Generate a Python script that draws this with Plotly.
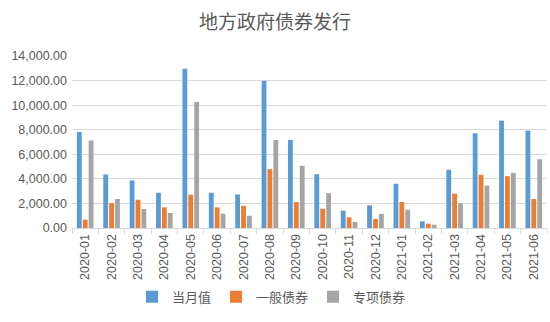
import plotly.graph_objects as go

months = ["2020-01","2020-02","2020-03","2020-04","2020-05","2020-06","2020-07","2020-08","2020-09",
          "2020-10","2020-11","2020-12","2021-01","2021-02","2021-03","2021-04","2021-05","2021-06"]
monthly = [7820, 4360, 3870, 2870, 12960, 2870, 2730, 11990, 7170, 4380, 1410, 1840, 3600, 540, 4740, 7710, 8740, 7930]
general = [680, 2030, 2300, 1680, 2710, 1680, 1810, 4790, 2110, 1570, 870, 730, 2110, 350, 2790, 4330, 4220, 2360]
special = [7120, 2360, 1540, 1220, 10260, 1160, 1000, 7170, 5060, 2840, 490, 1140, 1490, 270, 2000, 3460, 4490, 5600]

names = ["当月值", "一般债券", "专项债券"]
colors = ["#5B9BD5", "#ED7D31", "#A5A5A5"]

fig = go.Figure()
for n, vals, c in zip(names, [monthly, general, special], colors):
    fig.add_trace(go.Bar(x=months, y=vals, name=n, marker_color=c, marker_line_width=0))

cjk = "Noto Sans CJK SC"
fig.update_layout(
    width=550, height=322,
    margin=dict(l=72, r=3, t=56, b=94, autoexpand=False),
    paper_bgcolor="white", plot_bgcolor="white",
    title=dict(text="地方政府债券发行", x=0.5, xanchor="center", y=0.93, yanchor="middle",
               font=dict(family=cjk, size=19, color="#595959")),
    barmode="group", bargap=0.33, bargroupgap=0.18,
    legend=dict(orientation="h", x=0.42, xanchor="center", y=-0.4, yanchor="middle",
                font=dict(family=cjk, size=13, color="#595959"), itemwidth=30,
                tracegroupgap=0, traceorder="normal"),
    font=dict(family="Liberation Sans", color="#595959"),
)
fig.update_yaxes(range=[0, 14000], dtick=2000, tickformat=",.2f", automargin=False,
                 showgrid=True, gridcolor="#D9D9D9", gridwidth=1, zeroline=False,
                 tickfont=dict(size=12.5, color="#595959"), ticks="", showline=False,
                 ticklabelstandoff=4)
fig.update_xaxes(type="category", tickangle=-90, tickfont=dict(size=12.5, color="#595959"),
                 automargin=False,
                 showline=True, linecolor="#D9D9D9", linewidth=1,
                 ticks="outside", tickson="boundaries", ticklen=5, tickcolor="#D9D9D9",
                 showgrid=False)

fig.write_html("out.html")
